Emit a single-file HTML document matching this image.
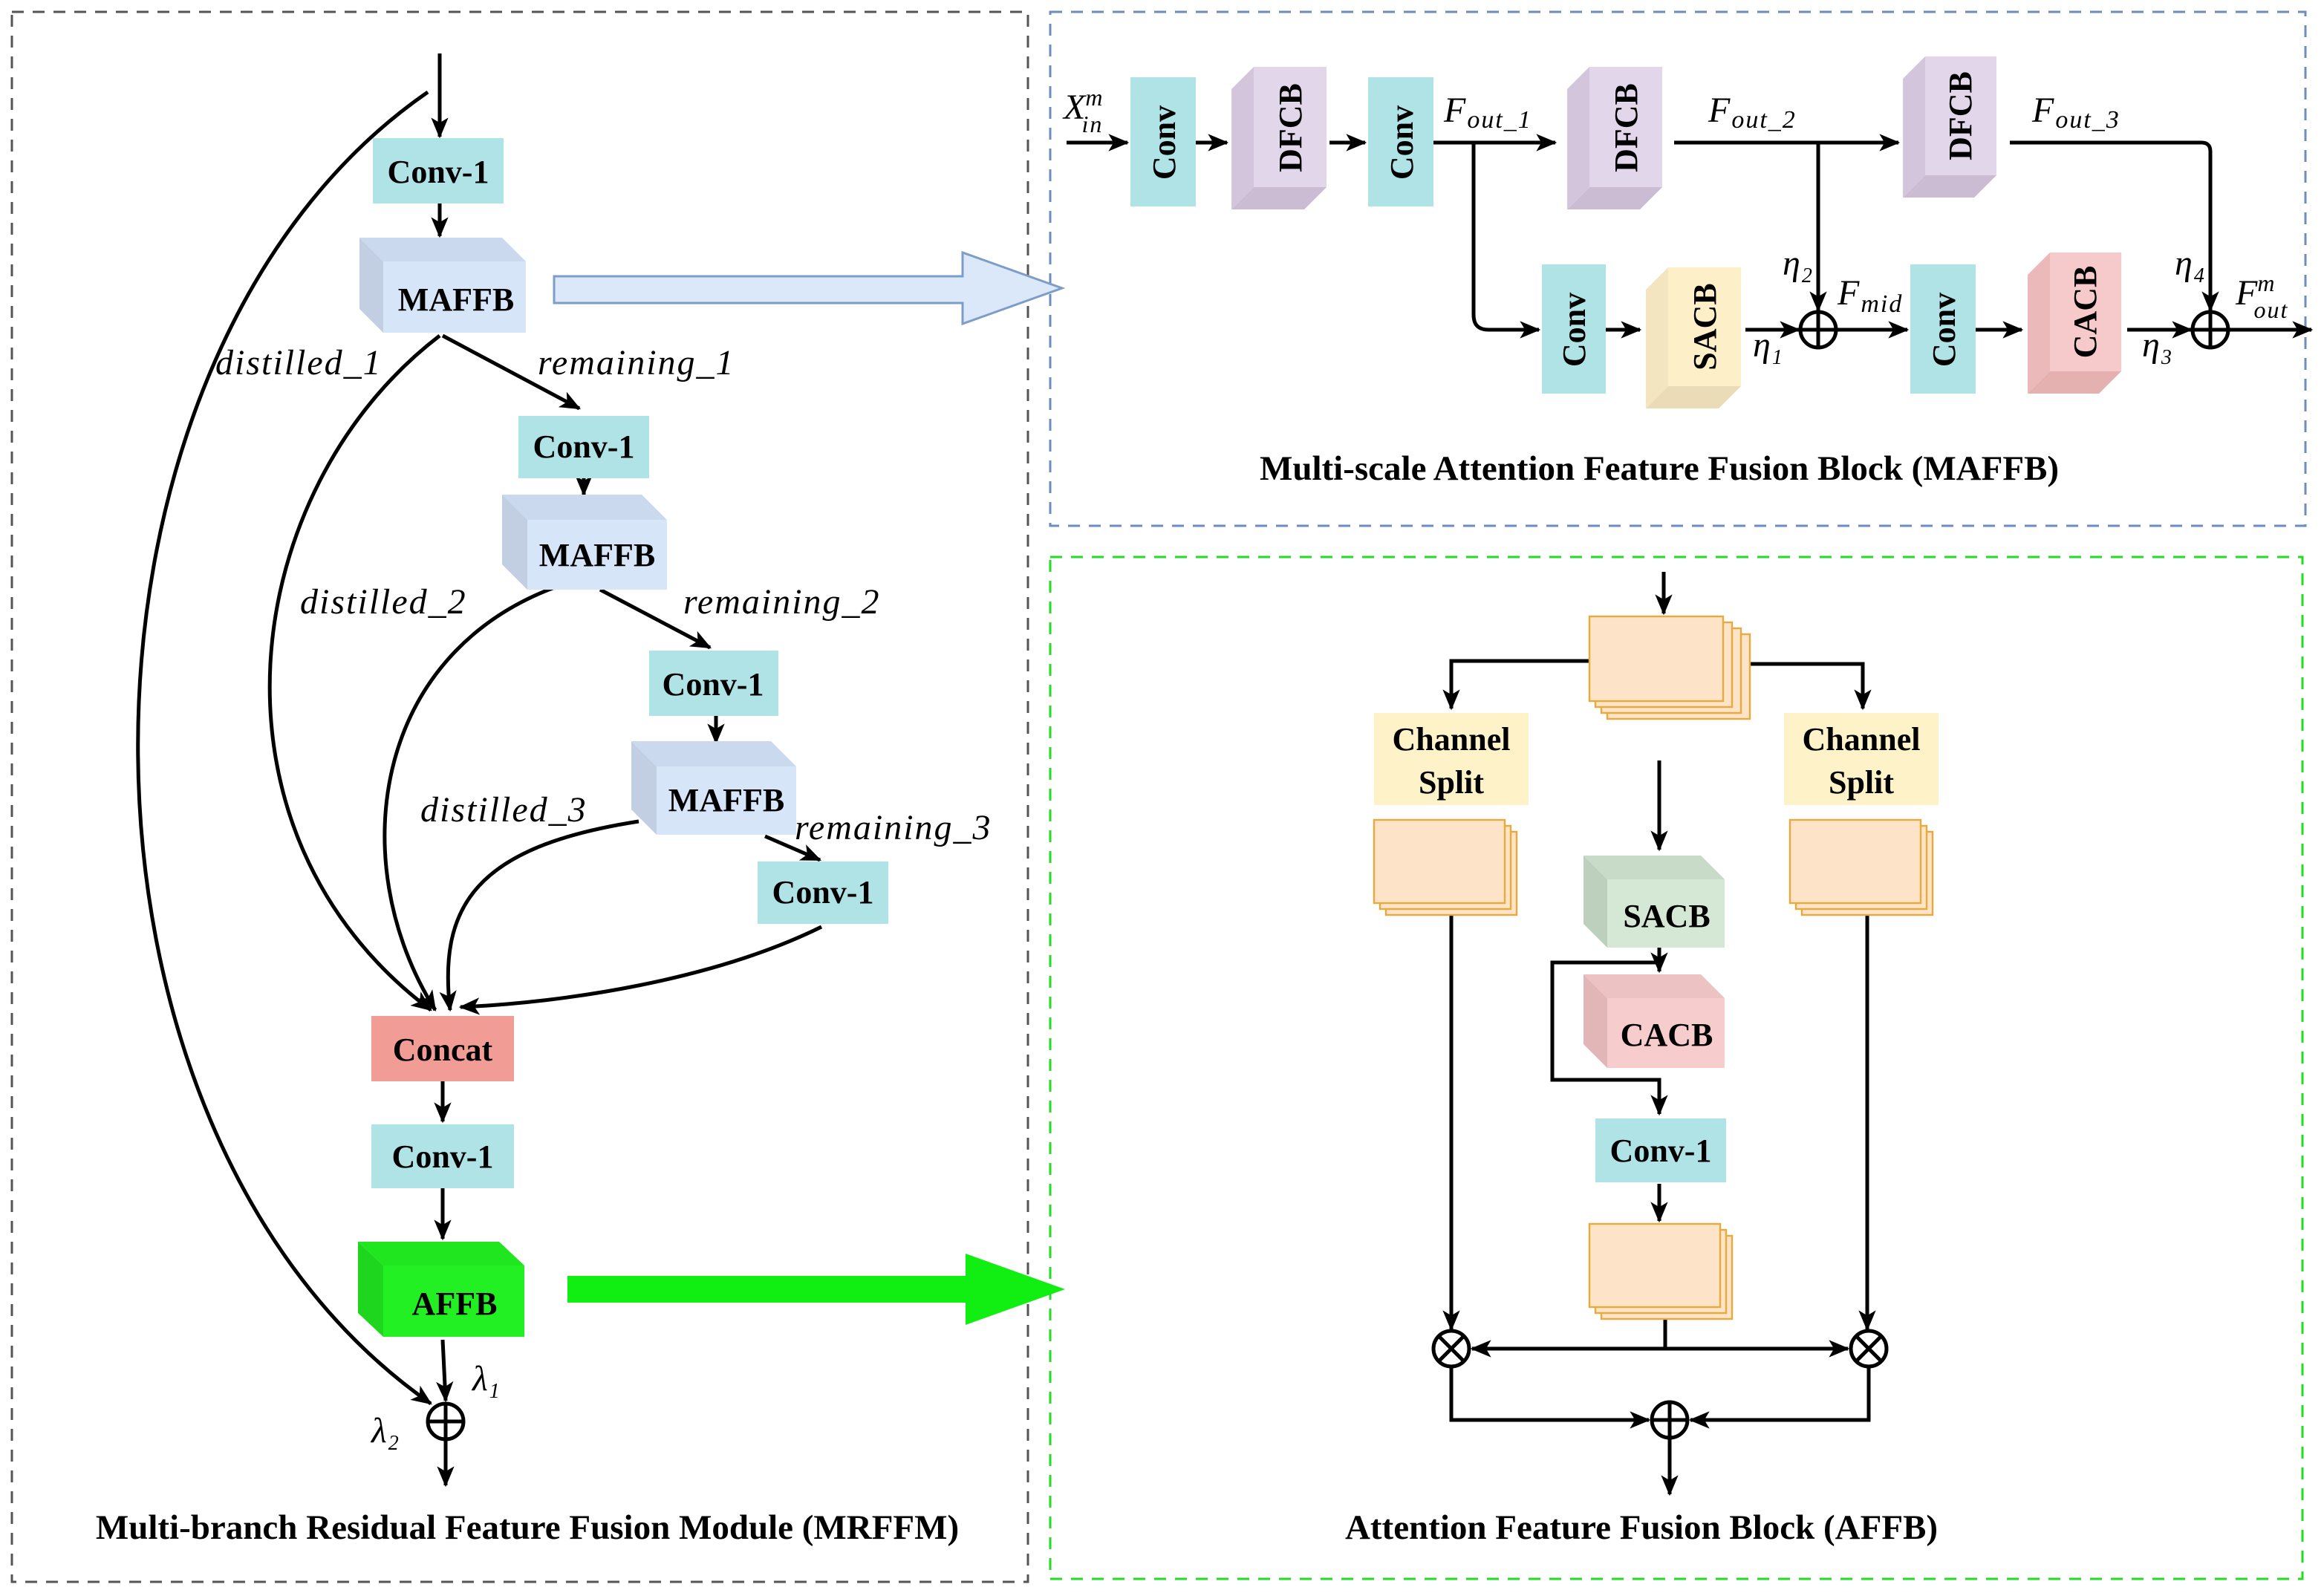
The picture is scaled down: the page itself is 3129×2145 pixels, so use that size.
<!DOCTYPE html>
<html><head><meta charset="utf-8"><style>
html,body{margin:0;padding:0;background:#fff}
svg{display:block}
text{font-family:"Liberation Serif",serif}
.b{font-weight:bold;font-size:22px}
.i{font-style:italic;font-size:24px;letter-spacing:1px}
.t{font-weight:bold;font-size:23.5px}
</style></head><body>
<svg width="3129" height="2145" viewBox="0 0 1564.5 1072.5" xmlns="http://www.w3.org/2000/svg">
<defs>
<marker id="h" viewBox="0 0 12 10" refX="11" refY="5" markerWidth="14" markerHeight="12" orient="auto-start-reverse" markerUnits="userSpaceOnUse">
<path d="M0,0 L12,5 L0,10 L3,5 z" fill="#000"/>
</marker>
</defs>
<rect width="1564.5" height="1072.5" fill="#fff"/>
<!-- frames -->
<rect x="8" y="8" width="684" height="1057" fill="none" stroke="#555" stroke-width="1.5" stroke-dasharray="8,6"/>
<rect x="707" y="8" width="845" height="346" fill="none" stroke="#6c8ebf" stroke-width="1.5" stroke-dasharray="8,6"/>
<rect x="707" y="375" width="843" height="688" fill="none" stroke="#22dd22" stroke-width="1.5" stroke-dasharray="8,6"/>

<g stroke="#000" stroke-width="2.5" fill="none" marker-end="url(#h)">
<!-- left panel -->
<line x1="296" y1="36" x2="296" y2="92"/>
<line x1="296" y1="137" x2="296" y2="159"/>
<path d="M288,62 C30,240 25,760 290,945"/>
<path d="M298,226 L390,275"/>
<line x1="393" y1="322" x2="393" y2="333"/>
<path d="M404,397 L478,436"/>
<line x1="482" y1="482" x2="482" y2="500"/>
<path d="M515,563 L552,579"/>
<path d="M296,226 C160,330 130,560 290,680"/>
<path d="M390,390 C250,430 230,580 293,680"/>
<path d="M430,553 C320,570 295,610 303,680"/>
<path d="M553,624 C480,660 380,675 310,678"/>
<line x1="298" y1="728" x2="298" y2="755"/>
<line x1="298" y1="800" x2="298" y2="834"/>
<line x1="298" y1="902" x2="300" y2="943"/>
<line x1="300" y1="969" x2="300" y2="1000"/>
<!-- MAFFB -->
<line x1="718" y1="96" x2="759" y2="96"/>
<line x1="805" y1="96" x2="826" y2="96"/>
<line x1="895" y1="96" x2="919" y2="96"/>
<line x1="965" y1="96" x2="1047" y2="96"/>
<path d="M992,96 L992,212 Q992,222 1002,222 L1036,222"/>
<line x1="1081" y1="222" x2="1104" y2="222"/>
<line x1="1127" y1="96" x2="1278" y2="96"/>
<line x1="1224" y1="96" x2="1224" y2="209"/>
<path d="M1353,96 L1482,96 Q1488,96 1488,102 L1488,209"/>
<line x1="1175" y1="222" x2="1211" y2="222"/>
<line x1="1236" y1="222" x2="1284" y2="222"/>
<line x1="1330" y1="222" x2="1361" y2="222"/>
<line x1="1432" y1="222" x2="1475" y2="222"/>
<line x1="1500" y1="222" x2="1556" y2="222"/>
<!-- AFFB -->
<line x1="1120" y1="385" x2="1120" y2="413"/>
<path d="M1070,445 L977,445 L977,477"/>
<path d="M1178,447 L1254,447 L1254,477"/>
<line x1="1117" y1="512" x2="1117" y2="572"/>
<line x1="1117" y1="638" x2="1117" y2="654"/>
<path d="M1117,648 L1045,648 L1045,727 L1117,727 L1117,750"/>
<line x1="1117" y1="797" x2="1117" y2="822"/>
<line x1="977" y1="612" x2="977" y2="895"/>
<line x1="1257" y1="612" x2="1257" y2="895"/>
<line x1="1121" y1="908" x2="991" y2="908"/>
<line x1="1121" y1="908" x2="1244" y2="908"/>
<path d="M977,920 L977,956 L1110,956"/>
<path d="M1258,920 L1258,956 L1138,956"/>
<line x1="1124" y1="968" x2="1124" y2="1006"/>
</g>
<line x1="1121" y1="885" x2="1121" y2="908" stroke="#000" stroke-width="2.5"/>
<line x1="1045" y1="648" x2="1117" y2="648" stroke="#000" stroke-width="2.5"/>

<!-- left panel boxes -->
<g class="b" text-anchor="middle">
<rect x="251" y="93" width="88" height="44" fill="#b0e3e6"/><text x="295" y="123">Conv-1</text>
<polygon points="242,160 338,160 354,176 258,176" fill="#cad9ee"/><polygon points="242,160 258,176 258,224 242,208" fill="#c2cfe3"/><rect x="258" y="176" width="96" height="48" fill="#d6e5f8"/><text x="307" y="209">MAFFB</text>
<rect x="349" y="280" width="88" height="42" fill="#b0e3e6"/><text x="393" y="308">Conv-1</text>
<polygon points="338,333 432,333 449,350 355,350" fill="#cad9ee"/><polygon points="338,333 355,350 355,397 338,380" fill="#c2cfe3"/><rect x="355" y="350" width="94" height="47" fill="#d6e5f8"/><text x="402" y="381">MAFFB</text>
<rect x="437" y="438" width="87" height="44" fill="#b0e3e6"/><text x="480" y="468">Conv-1</text>
<polygon points="425,499 519,499 536,516 442,516" fill="#cad9ee"/><polygon points="425,499 442,516 442,562 425,545" fill="#c2cfe3"/><rect x="442" y="516" width="94" height="46" fill="#d6e5f8"/><text x="489" y="546">MAFFB</text>
<rect x="510" y="580" width="88" height="42" fill="#b0e3e6"/><text x="554" y="608">Conv-1</text>
<rect x="250" y="684" width="96" height="44" fill="#f19c95"/><text x="298" y="714">Concat</text>
<rect x="250" y="757" width="96" height="43" fill="#b0e3e6"/><text x="298" y="786">Conv-1</text>
<polygon points="241,836 336,836 353,852 258,852" fill="#20e620"/><polygon points="241,836 258,852 258,900 241,884" fill="#1fd61f"/><rect x="258" y="852" width="95" height="48" fill="#22f022"/><text x="306" y="885">AFFB</text>
</g>
<!-- hollow arrows -->
<polygon points="373,186 648,186 648,170 715,194 648,218 648,204 373,204" fill="#dae8fa" stroke="#7d9cc8" stroke-width="1.5"/>
<polygon points="382,859 650,859 650,844 717,868 650,892 650,877 382,877" fill="#11ee11"/>
<!-- labels left -->
<g class="i">
<text x="145" y="252">distilled_1</text>
<text x="362" y="252">remaining_1</text>
<text x="202" y="413">distilled_2</text>
<text x="460" y="413">remaining_2</text>
<text x="283" y="553">distilled_3</text>
<text x="535" y="565">remaining_3</text>
<text x="318" y="936">λ<tspan font-size="14" dy="5">1</tspan></text>
<text x="250" y="971">λ<tspan font-size="14" dy="5">2</tspan></text>
</g>
<circle cx="300" cy="957" r="12" fill="#fff" stroke="#000" stroke-width="2.5"/>
<path d="M288,957 H312 M300,945 V969" stroke="#000" stroke-width="2.5"/>
<text x="355" y="1036" class="t" text-anchor="middle">Multi-branch Residual Feature Fusion Module (MRFFM)</text>

<!-- MAFFB panel -->
<g class="b" text-anchor="middle">
<rect x="761" y="52" width="44" height="87" fill="#b0e3e6"/><text transform="translate(791,96) rotate(-90)">Conv</text>
<polygon points="829,60 844,45 844,126 829,141" fill="#d3c5db"/><polygon points="829,141 844,126 893,126 878,141" fill="#cbbcd3"/><rect x="844" y="45" width="49" height="81" fill="#e2d6ea"/><text transform="translate(876,86) rotate(-90)">DFCB</text>
<rect x="921" y="52" width="44" height="87" fill="#b0e3e6"/><text transform="translate(951,96) rotate(-90)">Conv</text>
<polygon points="1055,60 1070,45 1070,126 1055,141" fill="#d3c5db"/><polygon points="1055,141 1070,126 1119,126 1104,141" fill="#cbbcd3"/><rect x="1070" y="45" width="49" height="81" fill="#e2d6ea"/><text transform="translate(1102,86) rotate(-90)">DFCB</text>
<polygon points="1281,53 1296,38 1296,118 1281,133" fill="#d3c5db"/><polygon points="1281,133 1296,118 1344,118 1329,133" fill="#cbbcd3"/><rect x="1296" y="38" width="48" height="80" fill="#e2d6ea"/><text transform="translate(1327,78) rotate(-90)">DFCB</text>
<rect x="1038" y="178" width="43" height="87" fill="#b0e3e6"/><text transform="translate(1067,222) rotate(-90)">Conv</text>
<polygon points="1108,195 1123,180 1123,260 1108,275" fill="#f2e5c0"/><polygon points="1108,275 1123,260 1172,260 1157,275" fill="#eadcb6"/><rect x="1123" y="180" width="49" height="80" fill="#fdf0c9"/><text transform="translate(1155,220) rotate(-90)">SACB</text>
<rect x="1286" y="178" width="44" height="87" fill="#b0e3e6"/><text transform="translate(1316,222) rotate(-90)">Conv</text>
<polygon points="1365,185 1380,170 1380,250 1365,265" fill="#ebb9b9"/><polygon points="1365,265 1380,250 1428,250 1413,265" fill="#e5b0b0"/><rect x="1380" y="170" width="48" height="80" fill="#f6caca"/><text transform="translate(1411,210) rotate(-90)">CACB</text>
</g>
<g class="i" letter-spacing="0">
<text x="716" y="80">X<tspan font-size="16" dx="-1" dy="-9">m</tspan><tspan font-size="16" dx="-15" dy="18">in</tspan></text>
<text x="972" y="82">F<tspan font-size="17" dy="4">out_1</tspan></text>
<text x="1150" y="82">F<tspan font-size="17" dy="4">out_2</tspan></text>
<text x="1368" y="82">F<tspan font-size="17" dy="4">out_3</tspan></text>
<text x="1200" y="185">η<tspan font-size="14" dy="5">2</tspan></text>
<text x="1180" y="240">η<tspan font-size="14" dy="5">1</tspan></text>
<text x="1237" y="205">F<tspan font-size="17" dy="5">mid</tspan></text>
<text x="1442" y="240">η<tspan font-size="14" dy="5">3</tspan></text>
<text x="1464" y="185">η<tspan font-size="14" dy="5">4</tspan></text>
<text x="1505" y="205">F<tspan font-size="16" dx="-1" dy="-9">m</tspan><tspan font-size="16" dx="-15" dy="18">out</tspan></text>
</g>
<g stroke="#000" stroke-width="2.5" fill="#fff">
<circle cx="1224" cy="222" r="12"/><path d="M1212,222 H1236 M1224,210 V234"/>
<circle cx="1488" cy="222" r="12"/><path d="M1476,222 H1500 M1488,210 V234"/>
</g>
<text x="1117" y="323" class="t" text-anchor="middle">Multi-scale Attention Feature Fusion Block (MAFFB)</text>

<!-- AFFB panel -->
<g fill="#fde4c9" stroke="#e8aa3c" stroke-width="1.2">
<rect x="1082" y="427" width="96" height="57"/><rect x="1078" y="423" width="94" height="57"/><rect x="1074" y="419" width="92" height="57"/><rect x="1070" y="415" width="90" height="57"/>
<rect x="933" y="560" width="88" height="56"/><rect x="929" y="556" width="88" height="56"/><rect x="925" y="552" width="88" height="56"/>
<rect x="1213" y="560" width="88" height="56"/><rect x="1209" y="556" width="88" height="56"/><rect x="1205" y="552" width="88" height="56"/>
<rect x="1078" y="832" width="88" height="56"/><rect x="1074" y="828" width="88" height="56"/><rect x="1070" y="824" width="88" height="56"/>
</g>
<g class="b" text-anchor="middle">
<rect x="925" y="480" width="104" height="62" fill="#fdf2c8"/><text x="977" y="505">Channel</text><text x="977" y="534">Split</text>
<rect x="1201" y="480" width="104" height="62" fill="#fdf2c8"/><text x="1253" y="505">Channel</text><text x="1253" y="534">Split</text>
<polygon points="1066,576 1145,576 1161,592 1082,592" fill="#c8dac8"/><polygon points="1066,576 1082,592 1082,638 1066,622" fill="#bdd0bd"/><rect x="1082" y="592" width="79" height="46" fill="#d5e8d5"/><text x="1122" y="624">SACB</text>
<polygon points="1066,656 1145,656 1161,672 1082,672" fill="#ecc2c2"/><polygon points="1066,656 1082,672 1082,719 1066,703" fill="#e2b6b6"/><rect x="1082" y="672" width="79" height="47" fill="#f6cccc"/><text x="1122" y="704">CACB</text>
<rect x="1074" y="753" width="88" height="43" fill="#b0e3e6"/><text x="1118" y="782">Conv-1</text>
</g>
<g stroke="#000" stroke-width="2.5" fill="#fff">
<circle cx="977" cy="908" r="12"/><path d="M969,900 L985,916 M985,900 L969,916"/>
<circle cx="1258" cy="908" r="12"/><path d="M1250,900 L1266,916 M1266,900 L1250,916"/>
<circle cx="1124" cy="956" r="12"/><path d="M1112,956 H1136 M1124,944 V968"/>
</g>
<text x="1105" y="1036" class="t" text-anchor="middle">Attention Feature Fusion Block (AFFB)</text>
</svg>
</body></html>
